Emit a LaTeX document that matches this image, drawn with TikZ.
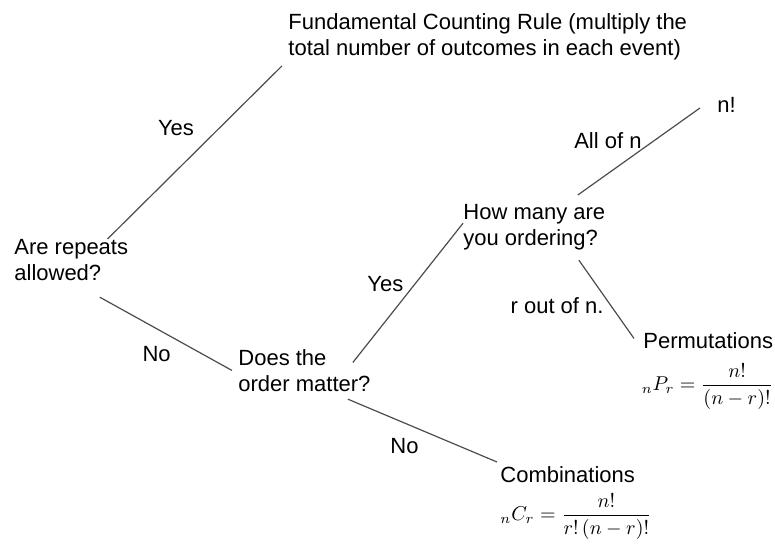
\documentclass[tikz,border=0pt]{standalone}
\usepackage{fontspec}
\setmainfont{Liberation Sans}
\usetikzlibrary{positioning}

\begin{document}
\begin{tikzpicture}[
    x=0.5pt, y=-0.5pt,
    txt/.style={anchor=north west, inner sep=0pt, align=left, font=\fontsize{11}{13}\selectfont},
    lbl/.style={font=\fontsize{11}{13}\selectfont},
    formula/.style={inner sep=0pt, font=\fontsize{10}{12}\selectfont},
    branch/.style={draw=black!70, line width=0.6pt}
]
\useasboundingbox (0,0) rectangle (775,550);

% Questions
\node[txt] (repeats) at (14,239) {Are repeats\\allowed?};
\node[txt] (order) at (238,349) {Does the\\order matter?};
\node[txt] (howmany) at (463,204) {How many are\\you ordering?};

% Outcomes
\node[txt] (fcr) at (288,13) {Fundamental Counting Rule (multiply the\\total number of outcomes in each event)};
\node[txt] (nfact) at (717,97) {n!};
\node[txt] (perm) at (643,332) {Permutations};
\node[txt] (comb) at (500,466) {Combinations};

% Formulas
\node[formula, below=7pt of perm.south east, anchor=north east] (permf) {$\displaystyle {}_{n}P_{r}=\frac{n!}{(n-r)!}$};
\node[formula, below=5pt of comb.south west, anchor=north west] (combf) {$\displaystyle {}_{n}C_{r}=\frac{n!}{r!\,(n-r)!}$};

% Branches
\draw[branch] ([xshift=-10.5pt]repeats.north east) -- node[lbl, pos=0.64, left=9pt] {Yes} ([shift={(-3pt,-2.8pt)}]fcr.south west);
\draw[branch] ([shift={(-14.4pt,-8pt)}]repeats.south east) -- node[lbl, pos=0.43, below=5pt] {No} ([xshift=-3pt]order.west);
\draw[branch] ([shift={(-9pt,4pt)}]order.east) -- node[lbl, pos=0.56, left=2pt] {Yes} ([yshift=2pt]howmany.west);
\draw[branch] ([shift={(-11.5pt,-3.6pt)}]order.south east) -- node[lbl, pos=0.38, below=4pt] {No} ([shift={(-1.5pt,2pt)}]comb.north west);
\draw[branch] ([shift={(-13.9pt,4.5pt)}]howmany.north east) -- node[lbl, pos=0.63, left=3pt] {All of n} ([shift={(-8.5pt,-1.5pt)}]nfact.west);
\draw[branch] ([shift={(-13.4pt,-4.8pt)}]howmany.south east) -- node[lbl, pos=0.58, left=0pt] {r out of n.} ([shift={(-4.5pt,1pt)}]perm.west);

\end{tikzpicture}
\end{document}
